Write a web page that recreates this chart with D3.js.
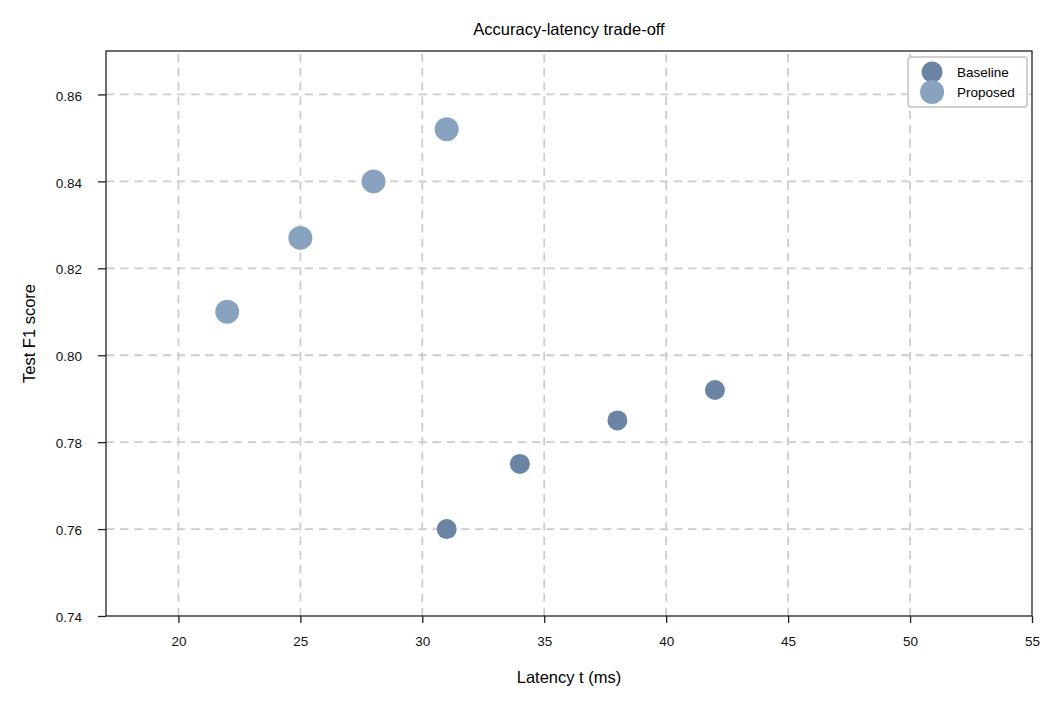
<!DOCTYPE html>
<html>
<head>
<meta charset="utf-8">
<script src="https://cdn.jsdelivr.net/npm/d3@7"></script>
<style>
  body { margin: 0; background: #fff; }
  svg { font-family: "Liberation Sans", Arial, sans-serif; }
  .axis path, .axis line { stroke: #222; stroke-width: 1.3; }
  .axis text { font-size: 13.5px; fill: #111; }
  .grid line { stroke: #cccccc; stroke-width: 1.8; stroke-dasharray: 8.3,5.9; }
</style>
</head>
<body>
<div id="chart"></div>
<script>
const baselineLatency = [31, 34, 38, 42];
const baselineF1 = [0.760, 0.775, 0.785, 0.792];
const proposedLatency = [22, 25, 28, 31];
const proposedF1 = [0.810, 0.827, 0.840, 0.852];
const xTicks = [20, 25, 30, 35, 40, 45, 50, 55];
const yTicks = [0.74, 0.76, 0.78, 0.80, 0.82, 0.84, 0.86];

const translation = function(x, y) {
  return 'translate(' + x + ',' + y + ')';
};

const width = 1062, height = 708;
const margin = { top: 51, right: 30, bottom: 92, left: 106 };
const innerW = width - margin.left - margin.right;
const innerH = height - margin.top - margin.bottom;

const svg = d3.select('#chart').append('svg')
  .attr('width', width)
  .attr('height', height);

const g = svg.append('g').attr('transform', translation(margin.left, margin.top));

const xScale = d3.scaleLinear().domain([17.03, 55]).range([0, innerW]);
const yScale = d3.scaleLinear().domain([0.74, 0.87]).range([innerH, 0]);

// grid
g.append('g').attr('class', 'grid')
  .selectAll('line.v')
  .data(xTicks.filter(d => d < 55))
  .enter().append('line')
  .attr('x1', d => xScale(d)).attr('x2', d => xScale(d))
  .attr('y1', innerH).attr('y2', 0);

g.append('g').attr('class', 'grid')
  .selectAll('line.h')
  .data(yTicks.filter(d => d > 0.74))
  .enter().append('line')
  .attr('x1', 0).attr('x2', innerW)
  .attr('y1', d => yScale(d)).attr('y2', d => yScale(d));

// axes
const xAxis = d3.axisBottom(xScale).tickValues(xTicks).tickSize(7).tickPadding(13).tickFormat(d3.format('d'));
const yAxis = d3.axisLeft(yScale).tickValues(yTicks).tickSize(8).tickPadding(16).tickFormat(d3.format('.2f'));

g.append('g').attr('class', 'axis x')
  .attr('transform', translation(0, innerH))
  .call(xAxis)
  .call(a => a.select('.domain').remove());

g.append('g').attr('class', 'axis y')
  .call(yAxis)
  .call(a => a.select('.domain').remove())
  .selectAll('text')
  .attr('dy', '0.42em');

// frame
g.append('rect')
  .attr('x', 0).attr('y', 0)
  .attr('width', innerW).attr('height', innerH)
  .attr('fill', 'none')
  .attr('stroke', '#222')
  .attr('stroke-width', 1.3);

// points
const baseline = baselineLatency.map((x, i) => ({ x: x, y: baselineF1[i] }));
const proposed = proposedLatency.map((x, i) => ({ x: x, y: proposedF1[i] }));

g.selectAll('circle.base')
  .data(baseline)
  .enter().append('circle')
  .attr('class', 'base')
  .attr('cx', d => xScale(d.x))
  .attr('cy', d => yScale(d.y))
  .attr('r', 10)
  .attr('fill', '#6b84a3');

g.selectAll('circle.prop')
  .data(proposed)
  .enter().append('circle')
  .attr('class', 'prop')
  .attr('cx', d => xScale(d.x))
  .attr('cy', d => yScale(d.y))
  .attr('r', 12)
  .attr('fill', '#89a2c0');

// title and labels
svg.append('text')
  .attr('x', margin.left + innerW / 2).attr('y', 35)
  .attr('text-anchor', 'middle')
  .style('font-size', '16.5px')
  .text('Accuracy-latency trade-off');

svg.append('text')
  .attr('x', margin.left + innerW / 2).attr('y', 683)
  .attr('text-anchor', 'middle')
  .style('font-size', '16.5px')
  .text('Latency t (ms)');

svg.append('text')
  .attr('transform', translation(35, margin.top + innerH / 2) + 'rotate(-90)')
  .attr('text-anchor', 'middle')
  .style('font-size', '16.5px')
  .text('Test F1 score');

// legend
const legend = g.append('g').attr('transform', translation(xScale(50) - 2, 6));
legend.append('rect')
  .attr('width', 119).attr('height', 50)
  .attr('rx', 3).attr('ry', 3)
  .attr('fill', '#fff')
  .attr('fill-opacity', 0.85)
  .attr('stroke', '#d0d0d0')
  .attr('stroke-width', 2);

const legendItems = [
  { label: 'Baseline', color: '#6b84a3', r: 10.5 },
  { label: 'Proposed', color: '#89a2c0', r: 12 }
];
legendItems.forEach((d, i) => {
  legend.append('circle')
    .attr('cx', 24).attr('cy', 15 + i * 20)
    .attr('r', d.r).attr('fill', d.color);
  legend.append('text')
    .attr('x', 49).attr('y', 15 + i * 20)
    .attr('dy', '0.36em')
    .style('font-size', '13.5px')
    .text(d.label);
});
</script>
</body>
</html>
